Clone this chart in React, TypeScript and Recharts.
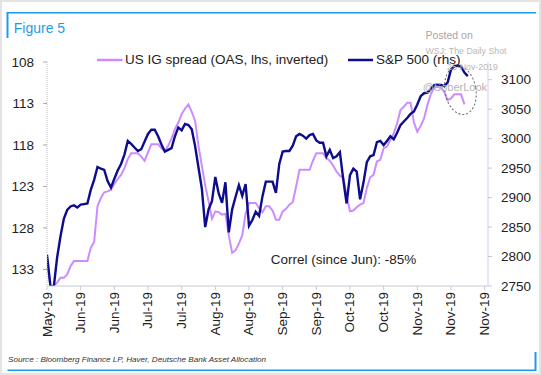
import React from 'react';
import { LineChart, Line, XAxis, YAxis, ReferenceDot } from 'recharts';

const FONT = '"Liberation Sans", Arial, Helvetica, sans-serif';

// x-axis tick labels (one every 10 trading days)
const xTickLabels = [
  'May-19', 'Jun-19', 'Jun-19', 'Jul-19', 'Jul-19', 'Aug-19', 'Aug-19',
  'Sep-19', 'Sep-19', 'Oct-19', 'Oct-19', 'Nov-19', 'Nov-19', 'Nov-19',
];

// US IG spread (OAS, bp) - lhs, inverted
const igSpread: (number | null)[] = [
  131.8, 135.0, 135.0, 134.6, 134.0, 134.0, 133.6, 132.6, 132.0, 132.0,
  132.0, 132.0, 132.0, 130.4, 129.7, 125.4, 124.4, 123.7, 123.6, 123.4,
  122.7, 122.1, 121.6, 120.8, 119.7, 119.0, 119.0, 119.0, 119.4, 119.9,
  118.9, 117.9, 117.9, 117.9, 118.4, 118.7, 118.1, 117.2, 116.1, 115.3,
  114.3, 113.6, 113.1, 114.0, 115.1, 118.1, 120.5, 122.9, 124.8, 126.9,
  126.0, 126.1, 126.4, 126.3, 128.9, 131.0, 130.7, 129.9, 128.9, 126.3,
  125.0, 125.0, 125.0, 125.6, 126.1, 125.4, 125.4, 125.9, 127.0, 127.0,
  126.0, 125.7, 125.2, 124.9, 123.0, 121.0, 121.0, 121.0, 121.0, 119.9,
  119.0, 119.0, 119.0, 119.6, 119.9, 120.5, 121.2, 121.7, 121.9, 124.1,
  126.0, 125.9, 125.5, 125.2, 125.0, 123.2, 121.9, 121.6, 120.0, 119.8,
  118.4, 118.2, 117.4, 116.6, 115.4, 113.8, 113.4, 112.9, 112.9, 115.3,
  116.4, 115.7, 114.8, 113.2, 111.9, 111.1, 111.0, 111.1, 111.6, 112.6,
  112.4, 111.9, 111.9, 111.9, 113.1, null,
];

// S&P 500 - rhs
const sp500: number[] = [
  2803, 2751, 2748, 2798, 2834, 2864, 2879, 2885, 2887, 2883,
  2888, 2889, 2890, 2913, 2930, 2952, 2949, 2947, 2928, 2917,
  2932, 2946, 2957, 2973, 2996, 2991, 2985, 2979, 2982, 2995,
  3008, 3015, 3015, 3004, 2990, 2978, 2981, 2984, 3004, 3019,
  3014, 3025, 3023, 3016, 2987, 2951, 2915, 2850, 2880, 2894,
  2935, 2907, 2891, 2926, 2841, 2880, 2901, 2921, 2903, 2923,
  2852, 2862, 2876, 2869, 2902, 2927, 2927, 2927, 2908, 2957,
  2978, 2979, 2979, 2988, 3004, 3008, 3005, 3000, 3006, 3008,
  2997, 2993, 2993, 2970, 2981, 2967, 2970, 2977, 2931, 2890,
  2938, 2949, 2944, 2897, 2925, 2960, 2970, 2972, 2994, 2996,
  2989, 2996, 3004, 2999, 3010, 3023, 3029, 3035, 3042, 3046,
  3058, 3072, 3077, 3078, 3084, 3091, 3092, 3091, 3089, 3095,
  3117, 3123, 3124, 3122, 3112, 3106,
];

const leftTicks = [108, 113, 118, 123, 128, 133];
const rightTicks = [2750, 2800, 2850, 2900, 2950, 3000, 3050, 3100];

const data = sp500.map((v, i) => ({ i, spx: v, ig: igSpread[i] ?? null }));
const xTicks = xTickLabels.map((_, k) => k * 10);

const XTick = (props: any) => {
  const { x, y, payload } = props;
  const label = xTickLabels[Math.round(payload.value / 10)];
  return (
    <g transform={`translate(${x},${y})`}>
      <text
        transform="rotate(-90)"
        textAnchor="end"
        dominantBaseline="central"
        fontSize={13.5}
        fill="#222"
        fontFamily={FONT}
      >
        {label}
      </text>
    </g>
  );
};

const EllipseShape = (props: any) => {
  const { cx, cy } = props;
  return (
    <ellipse
      cx={cx}
      cy={cy}
      rx={15.5}
      ry={24.5}
      transform={`rotate(-10 ${cx} ${cy})`}
      fill="none"
      stroke="#666"
      strokeWidth={1}
      strokeDasharray="2 2"
    />
  );
};

export default function App() {
  return (
    <div
      style={{
        position: 'absolute',
        left: 0,
        top: 0,
        width: 541,
        height: 375,
        background: '#fff',
        overflow: 'hidden',
        fontFamily: FONT,
      }}
    >
      <div style={{ position: 'absolute', left: 0, top: 0 }}>
        <LineChart
          width={541}
          height={375}
          data={data}
          margin={{ top: 62, right: 0, bottom: 0, left: 0 }}
        >
          <XAxis
            dataKey="i"
            type="number"
            domain={[0, 131]}
            ticks={xTicks}
            interval={0}
            allowDataOverflow
            height={89}
            tickSize={4}
            tickMargin={2}
            axisLine={{ stroke: '#c6c9d6' }}
            tickLine={{ stroke: '#c6c9d6' }}
            tick={(p: any) => <XTick {...p} />}
          />
          <YAxis
            yAxisId="left"
            orientation="left"
            reversed
            domain={[108, 135]}
            ticks={leftTicks}
            interval={0}
            allowDataOverflow
            width={47}
            tickSize={4}
            tickMargin={9}
            axisLine={{ stroke: '#bdbdbd', strokeDasharray: '1 1' }}
            tickLine={{ stroke: '#aaa' }}
            tick={{ fontSize: 13.5, fill: '#222', fontFamily: FONT }}
          />
          <YAxis
            yAxisId="right"
            orientation="right"
            domain={[2750, 3130]}
            ticks={rightTicks}
            interval={0}
            allowDataOverflow
            width={53}
            tickSize={4}
            tickMargin={9}
            axisLine={{ stroke: '#cfcfee', strokeWidth: 1 }}
            tickLine={{ stroke: '#c4c4ea' }}
            tick={{ fontSize: 13.5, fill: '#222', fontFamily: FONT }}
          />
          <Line
            yAxisId="left"
            dataKey="ig"
            name="US IG spread (OAS, lhs, inverted)"
            stroke="#cc8cff"
            strokeWidth={2}
            dot={false}
            activeDot={false}
            isAnimationActive={false}
          />
          <Line
            yAxisId="right"
            dataKey="spx"
            name="S&P 500 (rhs)"
            stroke="#0c0c8c"
            strokeWidth={2.4}
            dot={false}
            activeDot={false}
            isAnimationActive={false}
          />
          <ReferenceDot
            yAxisId="right"
            x={122.8}
            y={3082}
            r={20}
            shape={(p: any) => <EllipseShape {...p} />}
          />
        </LineChart>
      </div>
      <svg
        width={541}
        height={375}
        style={{ position: 'absolute', left: 0, top: 0, pointerEvents: 'none' }}
      >
        <rect x={1} y={1} width={539} height={373} fill="none" stroke="#e4e4e4" strokeWidth={2} />
        {/* frame */}
        <line x1={7.5} y1={12.8} x2={536} y2={12.8} stroke="#1e9be8" strokeWidth={1.6} />
        <line x1={7.5} y1={12} x2={7.5} y2={38} stroke="#1e9be8" strokeWidth={2} />
        <line x1={7.5} y1={370.3} x2={536} y2={370.3} stroke="#1e9be8" strokeWidth={1.6} />
        <line x1={535.5} y1={352} x2={535.5} y2={371} stroke="#1e9be8" strokeWidth={2} />
        <text x={13.8} y={33} fontSize={14} fill="#1e9be8" fontFamily={FONT}>Figure 5</text>

        {/* legend */}
        <line x1={97} y1={60} x2={122.5} y2={60} stroke="#cc8cff" strokeWidth={2.5} />
        <text x={125} y={64} fontSize={13.5} fill="#222" fontFamily={FONT}>US IG spread (OAS, lhs, inverted)</text>
        <line x1={348} y1={60} x2={373} y2={60} stroke="#0c0c8c" strokeWidth={2.5} />
        <text x={376} y={64} fontSize={13.5} fill="#222" fontFamily={FONT}>S&amp;P 500 (rhs)</text>

        {/* annotation */}
        <text x={270.7} y={264} fontSize={13.5} fill="#222" fontFamily={FONT}>Correl (since Jun): -85%</text>

        {/* source */}
        <text x={8} y={362} fontSize={8.1} fontStyle="italic" fill="#333" fontFamily={FONT}>
          Source : Bloomberg Finance LP, Haver, Deutsche Bank Asset Allocation
        </text>

        {/* watermark */}
        <text x={425.5} y={38.5} fontSize={10.5} fill="#a6a6a6" fontFamily={FONT}>Posted on</text>
        <text x={425.5} y={53.5} fontSize={8.8} fill="#b8b8b8" fontFamily={FONT}>WSJ: The Daily Shot</text>
        <text x={447} y={70} fontSize={8.8} fill="#b8b8b8" fontFamily={FONT}>25-Nov-2019</text>
        <text x={422.7} y={91.3} fontSize={11} fill="#b4b4b4" fontFamily={FONT}>@SoberLook</text>
      </svg>
    </div>
  );
}
